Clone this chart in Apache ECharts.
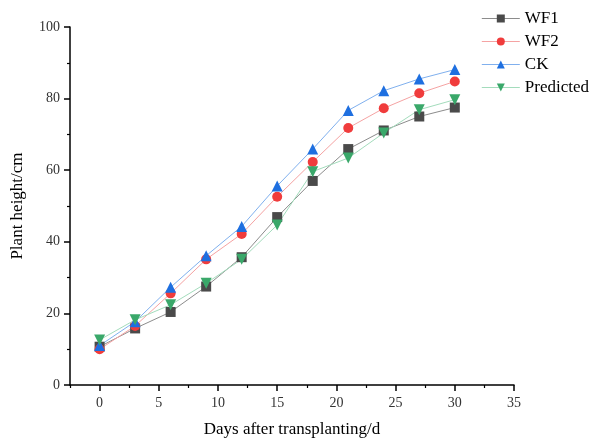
<!DOCTYPE html>
<html>
<head>
<meta charset="utf-8">
<script src="https://cdn.jsdelivr.net/npm/echarts@6/dist/echarts.min.js"></script>
<style>
  html, body { margin: 0; padding: 0; background: #fff; }
  #chart { width: 598px; height: 443px; }
</style>
</head>
<body>
<div id="chart"></div>
<script>
// days after transplanting
var days = [0, 3, 6, 9, 12, 15, 18, 21, 24, 27, 30];
// plant height, cm
var wf1 = [10.7, 15.8, 20.4, 27.5, 35.7, 46.9, 57.0, 65.9, 71.1, 75.0, 77.5];
var wf2 = [10.0, 16.5, 25.6, 35.1, 42.2, 52.6, 62.3, 71.8, 77.3, 81.5, 84.8];
var ck = [11.0, 17.7, 27.3, 36.1, 44.3, 55.6, 65.9, 76.7, 82.2, 85.5, 88.1];
var predicted = [12.6, 18.2, 22.4, 28.4, 35.1, 44.7, 59.6, 63.4, 70.4, 76.9, 79.7];
var xMajor = [0, 5, 10, 15, 20, 25, 30, 35];
var xMinor = [-2.5, 2.5, 7.5, 12.5, 17.5, 22.5, 27.5, 32.5];

function pairs(ys) {
    return days.map(function (d, i) { return [d, ys[i]]; });
}

var font = '"Liberation Serif", "Times New Roman", serif';

var chart = echarts.init(document.getElementById('chart'));

var styles = {
    WF1: { symbol: 'rect', marker: '#4a4a4a', line: '#8c8c8c', size: 10 },
    WF2: { symbol: 'circle', marker: '#f03c3c', line: '#f5a3a3', size: 10 },
    CK: { symbol: 'triangle', marker: '#1e6fe0', line: '#80b0ee', size: 11 },
    Predicted: { symbol: 'path://M0,0 L10,0 L5,9 Z', marker: '#3aa86a', line: '#a3dcbc', size: 11 }
};

function line(name, ys) {
    var s = styles[name];
    return {
        name: name,
        type: 'line',
        data: pairs(ys),
        symbol: s.symbol,
        symbolSize: s.size,
        showSymbol: true,
        lineStyle: { color: s.line, width: 1 },
        itemStyle: { color: s.marker },
        color: s.marker,
        z: 3
    };
}

function legendItem(name) {
    var s = styles[name];
    return {
        name: name,
        itemStyle: { color: s.marker },
        lineStyle: { color: s.line, width: 1.2 }
    };
}

chart.setOption({
    backgroundColor: '#fff',
    animation: false,
    textStyle: { fontFamily: font },
    grid: { left: 70, right: 84, top: 27, bottom: 58 },
    legend: {
        right: 4,
        top: 5,
        orient: 'vertical',
        itemWidth: 38,
        itemHeight: 10,
        itemGap: 6,
        textStyle: { fontFamily: font, fontSize: 17, color: '#000' },
        data: ['WF1', 'WF2', 'CK', 'Predicted'].map(legendItem)
    },
    xAxis: [{
        type: 'value',
        min: -2.5,
        max: 35,
        name: 'Days after transplanting/d',
        nameLocation: 'middle',
        nameGap: 36,
        nameTextStyle: { fontFamily: font, fontSize: 17, color: '#000' },
        splitLine: { show: false },
        axisLine: { onZero: false, lineStyle: { color: '#000', width: 1.5 } },
        axisTick: { show: true, customValues: xMajor, length: 6, lineStyle: { color: '#000', width: 1.5 } },
        axisLabel: { customValues: xMajor, color: '#333', fontFamily: font, fontSize: 14, margin: 11 }
    }, {
        type: 'value',
        min: -2.5,
        max: 35,
        position: 'bottom',
        splitLine: { show: false },
        axisLine: { show: false, onZero: false },
        axisTick: { show: true, customValues: xMinor, length: 3, lineStyle: { color: '#000', width: 1.2 } },
        axisLabel: { show: false }
    }],
    yAxis: {
        type: 'value',
        min: 0,
        max: 100,
        interval: 20,
        name: 'Plant height/cm',
        nameLocation: 'middle',
        nameGap: 44,
        nameTextStyle: { fontFamily: font, fontSize: 17, color: '#000' },
        splitLine: { show: false },
        axisLine: { show: true, onZero: false, lineStyle: { color: '#000', width: 1.5 } },
        axisTick: { show: true, length: 6, lineStyle: { color: '#000', width: 1.5 } },
        minorTick: { show: true, splitNumber: 2, length: 3, lineStyle: { color: '#000', width: 1.2 } },
        axisLabel: { color: '#333', fontFamily: font, fontSize: 14, margin: 10 }
    },
    series: [
        line('WF1', wf1),
        line('WF2', wf2),
        line('CK', ck),
        line('Predicted', predicted)
    ]
});
</script>
</body>
</html>
